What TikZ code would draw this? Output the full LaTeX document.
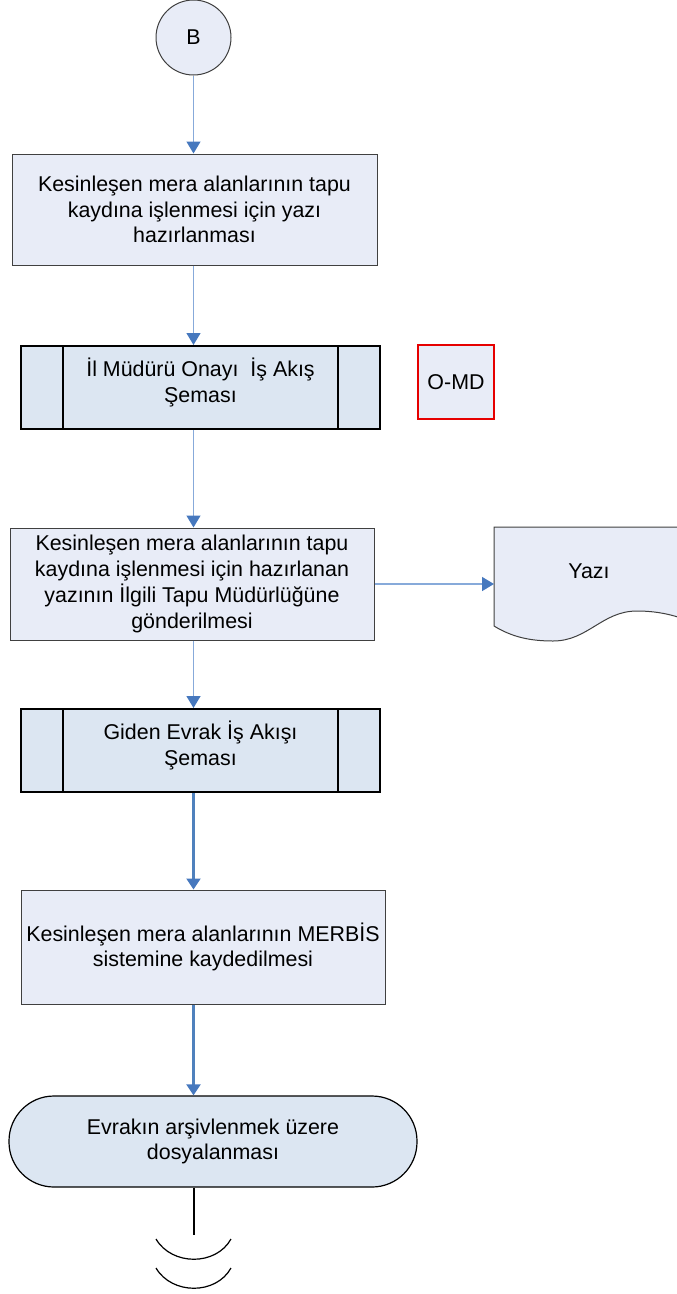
\documentclass[tikz,border=0pt]{standalone}
\usepackage{fontspec}
\setmainfont{Liberation Sans}
\usetikzlibrary{arrows.meta}
\definecolor{boxfill}{RGB}{232,236,247}
\definecolor{predfill}{RGB}{220,230,242}
\definecolor{boxline}{RGB}{64,64,64}
\definecolor{lightarrow}{RGB}{135,170,218}
\definecolor{darkarrow}{RGB}{79,129,189}
\definecolor{headblue}{RGB}{70,120,190}
\definecolor{omdred}{RGB}{230,0,0}
\tikzset{
  txt/.style={font=\fontsize{21.4}{25.7}\selectfont, align=center, text=black},
  procbox/.style={txt, draw=boxline, line width=1pt, fill=boxfill, inner sep=0pt},
  predbox/.style={txt, draw=black, line width=2pt, fill=predfill, inner sep=0pt},
  flowthin/.style={draw=lightarrow, line width=1.5pt, -{Triangle[length=12pt,width=14pt,color=headblue]}},
  flowthick/.style={draw=darkarrow, line width=2.2pt, -{Triangle[length=11pt,width=14pt,color=headblue]}},
  breakline/.style={draw=black, line width=1.2pt},
}
\begin{document}
\begin{tikzpicture}[x=1pt,y=-1pt]
\useasboundingbox (0,0) rectangle (677,1294);
% start connector
\node[txt, circle, draw=boxline, line width=1pt, fill=boxfill, minimum size=75pt, inner sep=0pt] (b) at (193.5,37.5) {B};
% box 1
\node[procbox, minimum width=365pt, minimum height=111pt] (box1) at (194.5,209.5)
  {Kesinleşen mera alanlarının tapu\\kaydına işlenmesi için yazı\\hazırlanması};
% predefined 1
\node[predbox, minimum width=359pt, minimum height=83pt, text depth=14pt] (pred1) at (200.5,387.5)
  {İl Müdürü Onayı~ İş Akış\\Şeması};
\draw[black, line width=2pt] ([xshift=43pt]pred1.north west) -- ([xshift=43pt]pred1.south west);
\draw[black, line width=2pt] ([xshift=-43pt]pred1.north east) -- ([xshift=-43pt]pred1.south east);
% O-MD
\node[txt, draw=omdred, line width=2.2pt, fill=boxfill, minimum width=76pt, minimum height=74pt, inner sep=0pt] (omd) at (456,382) {O-MD};
% box 3
\node[procbox, minimum width=364pt, minimum height=112pt] (box3) at (192,584)
  {Kesinleşen mera alanlarının tapu\\kaydına işlenmesi için hazırlanan\\yazının İlgili Tapu Müdürlüğüne\\gönderilmesi};
% document Yazı
\begin{scope}
\clip (0,0) rectangle (677,1294);
\draw[boxline, line width=1pt, fill=boxfill] (700,624) -- (700,527) -- (494,527) -- (494,626)
  .. controls (512,637) and (530,641) .. (553,641)
  .. controls (588,641) and (602,611) .. (637,611)
  .. controls (662,611) and (682,617) .. (700,626) -- cycle;
\end{scope}
\node[txt, inner sep=0pt] (yazi) at (589,571) {Yazı};
\coordinate (docin) at (494,584);
% predefined 2
\node[predbox, minimum width=359pt, minimum height=83pt, text depth=14pt] (pred2) at (200.5,750.5)
  {Giden Evrak İş Akışı\\Şeması};
\draw[black, line width=2pt] ([xshift=43pt]pred2.north west) -- ([xshift=43pt]pred2.south west);
\draw[black, line width=2pt] ([xshift=-43pt]pred2.north east) -- ([xshift=-43pt]pred2.south east);
% box 4
\node[procbox, minimum width=364pt, minimum height=114pt] (box4) at (203,947)
  {Kesinleşen mera alanlarının MERBİS\\sistemine kaydedilmesi};
% terminator
\node[txt, draw=black, line width=1.2pt, fill=predfill, rounded corners=45pt, minimum width=408pt, minimum height=91pt, inner sep=0pt] (term) at (213,1141.5)
  {Evrakın arşivlenmek üzere\\dosyalanması};
% connectors
\draw[flowthin] (b.south) -- (b |- box1.north);
\draw[flowthin] (b |- box1.south) -- (b |- pred1.north);
\draw[flowthin] (b |- pred1.south) -- (b |- box3.north);
\draw[flowthin] (b |- box3.south) -- (b |- pred2.north);
\draw[flowthin] (box3.east) -- (docin);
\draw[flowthick] (b |- pred2.south) -- (b |- box4.north);
\draw[flowthick] (b |- box4.south) -- (b |- term.north);
% off-page break
\coordinate (brk) at (194,1235);
\draw[breakline] (brk |- term.south) -- (brk);
\coordinate (arcA) at (156,1239);
\coordinate (arcB) at (231,1239);
\coordinate (arcC) at (156,1268);
\coordinate (arcD) at (231,1268);
\draw[breakline] (arcA) .. controls (172,1266) and (216,1266) .. (arcB);
\draw[breakline] (arcC) .. controls (172,1295) and (216,1295) .. (arcD);
\end{tikzpicture}
\end{document}
